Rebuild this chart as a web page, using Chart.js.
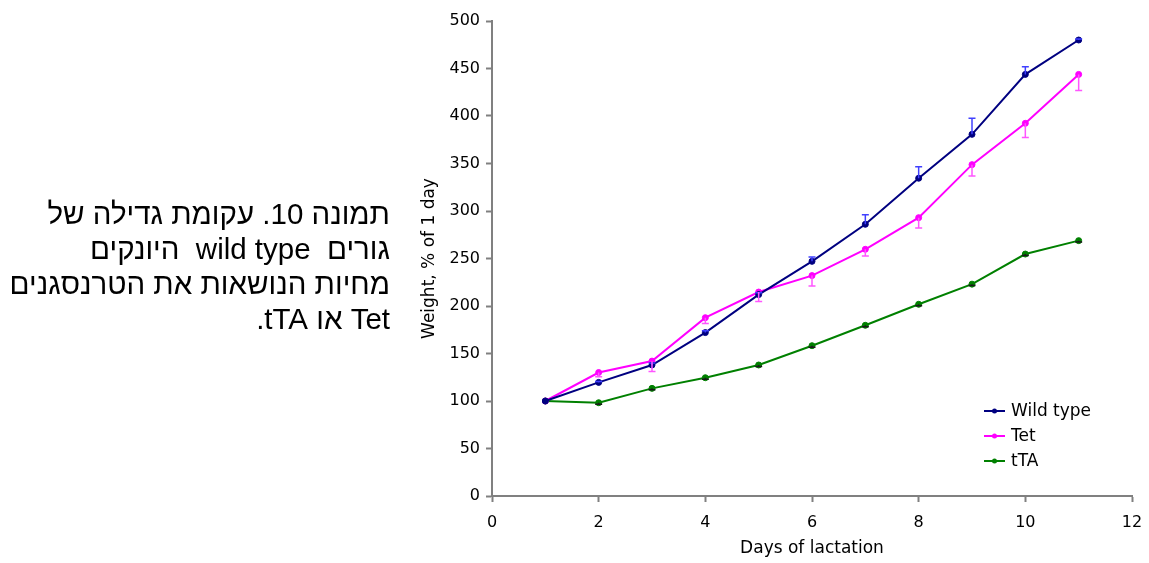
<!DOCTYPE html>
<html>
<head>
<meta charset="utf-8">
<script src="https://cdn.jsdelivr.net/npm/chart.js@4.4.1/dist/chart.umd.min.js"></script>
<style>
  html, body { margin: 0; padding: 0; background: #ffffff; }
  #wrap { position: relative; width: 1149px; height: 563px; }
  #chart { position: absolute; left: 0; top: 0; }
  #caption {
    position: absolute; right: 759px; top: 196px;
    direction: rtl; text-align: right; white-space: pre;
    font-family: "Liberation Sans", Arial, "DejaVu Sans", sans-serif;
    font-size: 29.5px; line-height: 35px; color: #000;
  }
</style>
</head>
<body>
<div id="wrap">
  <canvas id="chart" width="1149" height="563"></canvas>
  <div id="caption">תמונה 10. עקומת גדילה של
גורים  wild type  היונקים
מחיות הנושאות את הטרנסגנים
Tet או tTA.</div>
</div>
<script>
// Days of lactation
const days = [1, 2, 3, 4, 5, 6, 7, 8, 9, 10, 11];

// Body weight as % of day-1 weight
const wildType = [100, 119.6, 137.9, 172, 212, 247, 286, 334.5, 380.7, 443.8, 480];
const tet      = [100, 130, 142, 187.7, 214.7, 232, 259.7, 293, 348.8, 392.3, 443.8];
const tta      = [100, 98.2, 113.3, 124.5, 137.9, 158.2, 179.7, 201.8, 223, 254.7, 268.8];

// One-sided error bars (SEM)
const wildTypeErr = [0, 1, 2, 2, 2, 4.7, 10, 12, 17, 8, 1];
const tetErr      = [0, 4.5, 11, 6, 10, 11, 7, 11, 12, 15, 17];
const ttaErr      = [0, 1.5, 1.5, 1.5, 1.5, 1.5, 1.5, 1.5, 1.5, 1.5, 1.5];

const seriesNames = ['Wild type', 'Tet', 'tTA'];
const xTickStep = 2;
const yTickStep = 50;

const FONT = '"DejaVu Sans", Verdana, sans-serif';
const AXIS_GREY = '#808080';

function pts(values) {
  return days.map((d, i) => ({ x: d, y: values[i] }));
}

// Draws vertical error bars with caps; errDir +1 = upward, -1 = downward
const errorBars = {
  id: 'errorBars',
  afterDatasetsDraw(chart) {
    const ctx = chart.ctx;
    const yScale = chart.scales.y;
    chart.data.datasets.forEach((ds, i) => {
      const meta = chart.getDatasetMeta(i);
      ctx.save();
      ctx.strokeStyle = ds.errColor;
      ctx.lineWidth = 1.5;
      meta.data.forEach((pt, j) => {
        const e = ds.errors[j];
        if (!e) return;
        const v = ds.data[j].y + ds.errDir * e;
        const yEnd = yScale.getPixelForValue(v);
        ctx.beginPath();
        ctx.moveTo(pt.x, pt.y);
        ctx.lineTo(pt.x, yEnd);
        ctx.moveTo(pt.x - 3.5, yEnd);
        ctx.lineTo(pt.x + 3.5, yEnd);
        ctx.stroke();
      });
      ctx.restore();
    });
  }
};

// Legend box drawn inside the plot area, lower right
const innerLegend = {
  id: 'innerLegend',
  afterDraw(chart) {
    const ctx = chart.ctx;
    const area = chart.chartArea;
    const x0 = area.right - 148;
    const y0 = area.top + 390;
    ctx.save();
    chart.data.datasets.forEach((ds, i) => {
      const y = y0 + i * 25;
      ctx.strokeStyle = ds.borderColor;
      ctx.lineWidth = 2;
      ctx.beginPath();
      ctx.moveTo(x0, y);
      ctx.lineTo(x0 + 21, y);
      ctx.stroke();
      ctx.fillStyle = ds.borderColor;
      ctx.beginPath();
      ctx.arc(x0 + 10.5, y, 2.5, 0, Math.PI * 2);
      ctx.fill();
      ctx.fillStyle = '#000';
      ctx.font = '17px ' + FONT;
      ctx.textAlign = 'left';
      ctx.textBaseline = 'middle';
      ctx.fillText(ds.label, x0 + 27, y + 1);
    });
    ctx.restore();
  }
};

function series(label, values, errs, color, errColor, dir) {
  return {
    label: label,
    data: pts(values),
    errors: errs,
    errDir: dir,
    errColor: errColor,
    borderColor: color,
    backgroundColor: color,
    borderWidth: 2,
    pointRadius: 3,
    pointBorderWidth: 1,
    pointHoverRadius: 3,
    tension: 0
  };
}

new Chart(document.getElementById('chart'), {
  type: 'line',
  data: {
    datasets: [
      series(seriesNames[0], wildType, wildTypeErr, '#000080', '#4040ff', 1),
      series(seriesNames[1], tet, tetErr, '#ff00ff', '#ff55ff', -1),
      series(seriesNames[2], tta, ttaErr, '#008000', '#1a1a1a', -1)
    ]
  },
  options: {
    responsive: false,
    devicePixelRatio: 1,
    animation: false,
    layout: { padding: { left: 400, right: 17, top: 21, bottom: 0 } },
    plugins: {
      legend: { display: false },
      tooltip: { enabled: false }
    },
    scales: {
      x: {
        type: 'linear',
        min: 0, max: 12,
        ticks: { stepSize: xTickStep, color: '#000', padding: 11, font: { family: FONT, size: 16 } },
        grid: { drawOnChartArea: false, drawTicks: true, tickLength: 6, tickColor: AXIS_GREY, tickWidth: 2 },
        border: { color: AXIS_GREY, width: 2 },
        title: { display: true, text: 'Days of lactation', color: '#000', font: { family: FONT, size: 17 }, padding: { top: 0, bottom: 4 } },
        afterFit(scale) { scale.height = 67; scale.paddingLeft = 0; scale.paddingRight = 0; }
      },
      y: {
        type: 'linear',
        min: 0, max: 500,
        ticks: { stepSize: yTickStep, color: '#000', padding: 6, font: { family: FONT, size: 16 } },
        grid: { drawOnChartArea: false, drawTicks: true, tickLength: 6, tickColor: AXIS_GREY, tickWidth: 2 },
        border: { color: AXIS_GREY, width: 2 },
        title: { display: true, text: 'Weight, % of 1 day', color: '#000', font: { family: FONT, size: 17 }, padding: { top: 19, bottom: 0 } },
        afterFit(scale) { scale.width = 92; scale.paddingTop = 0; scale.paddingBottom = 0; }
      }
    }
  },
  plugins: [errorBars, innerLegend]
});
</script>
</body>
</html>
